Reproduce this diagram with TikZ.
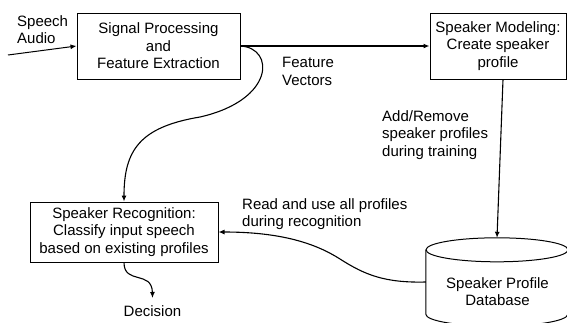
\documentclass[tikz,border=0pt]{standalone}
\usepackage{fontspec}
\setmainfont{Liberation Sans}
\usetikzlibrary{arrows.meta}
\begin{document}
\begin{tikzpicture}[x=1pt,y=-1pt,
  every node/.style={font=\fontsize{15}{17.6}\selectfont},
  stage/.style={draw, line width=1pt, align=center, inner sep=0pt},
  note/.style={align=left, inner sep=0pt, anchor=north west},
  conn/.style={line width=1.1pt, -{Latex[length=6pt,width=5pt]}},
  bold conn/.style={line width=2pt, -{Latex[length=6pt,width=5pt]}},
]
\useasboundingbox (0,0) rectangle (567,322);

% processing stages
\node[stage, minimum width=163pt, minimum height=66pt] (sig) at (158.5,46)
  {Signal Processing\\and\\Feature Extraction};
\node[stage, minimum width=136pt, minimum height=66pt] (mod) at (498,46)
  {Speaker Modeling:\\Create speaker\\profile};
\node[stage, minimum width=188pt, minimum height=60pt] (rec) at (124,232)
  {Speaker Recognition:\\Classify input speech\\based on existing profiles};

% profile database (cylinder)
\node[minimum width=142pt, minimum height=64pt, inner sep=0pt] (db) at (497,282) {};
\draw[line width=1pt] (db.north west) -- (db.south west)
  arc[start angle=180, end angle=360, x radius=71pt, y radius=12pt] -- (db.north east);
\draw[line width=1pt] (db.north) ellipse [x radius=71pt, y radius=12pt];
\node[note, anchor=north, align=center] (dbtext) at (497.5,277) {Speaker Profile\\Database};

% free labels
\node[note] (speech) at (17,15) {Speech\\Audio};
\node[note] (feat) at (282,57) {Feature\\Vectors};
\node[note] (train) at (382,110) {Add/Remove\\speaker profiles\\during training};
\node[note] (read) at (242,198) {Read and use all profiles\\during recognition};
\node[note, anchor=north, align=center] (dec) at (152.5,305) {Decision};

% connectors
\coordinate (src) at (8,55);
\draw[conn, line width=1pt] (src) -- (sig.west);
\draw[bold conn] (sig.east) -- (mod.west);
\draw[conn] (sig.east) .. controls (275,48) and (275,100) .. (200,117)
  .. controls (140,127) and (124,150) .. (rec.north);
\draw[conn] ([xshift=5pt]mod.south) -- ([yshift=12pt]db.north);
\draw[conn] (db.west) .. controls (385,283) and (365,275) .. (340,259)
  .. controls (315,243) and (280,232) .. (rec.east);
\draw[conn] (rec.south) .. controls (124,285) and (152,270) .. ([yshift=7pt]dec.north);
\end{tikzpicture}
\end{document}
